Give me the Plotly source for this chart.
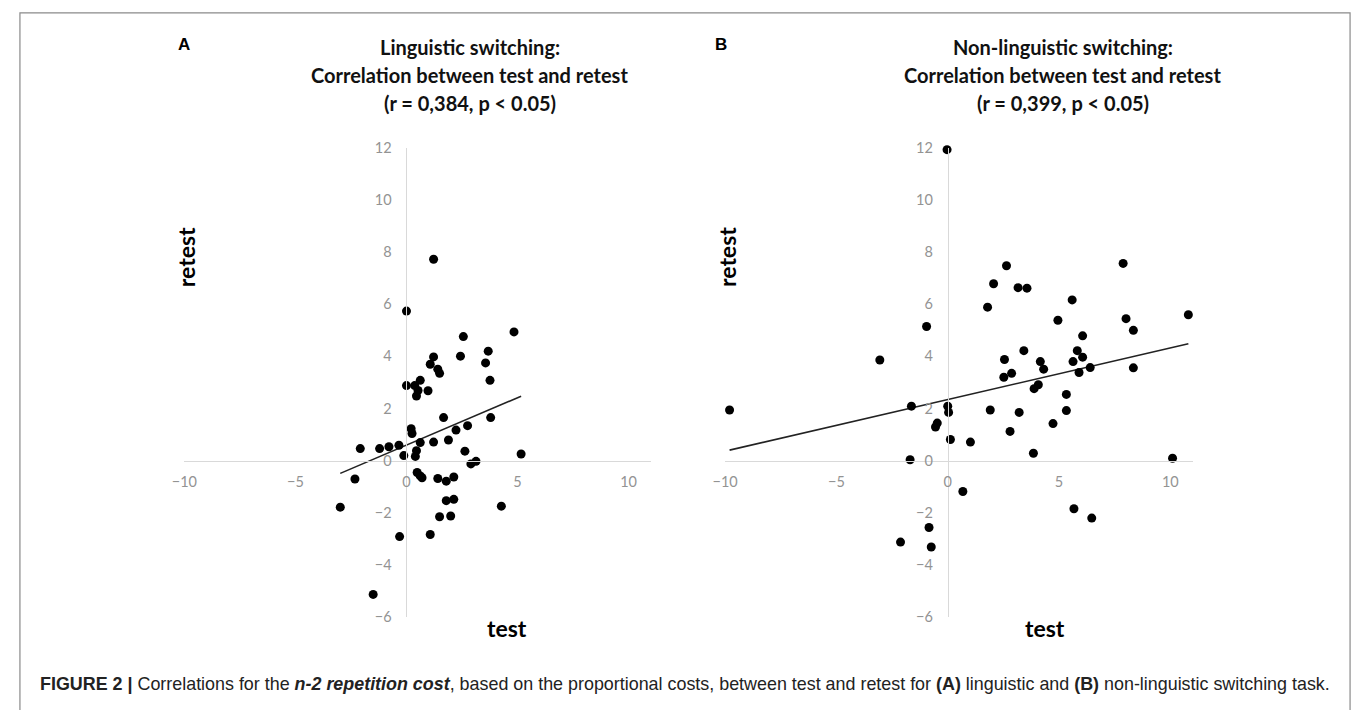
import numpy as np
import plotly.graph_objects as go

# ---------------- data ----------------
ling_test = [1.22, 0.00, 4.84, 2.56, 3.68, 1.22, 2.43, 3.56, 1.07, 1.41, 1.49, 3.76, 0.62, 0.00,
             0.37, 0.52, 0.97, 0.45, 1.67, 3.79, 2.75, 2.23, 0.21, 0.25, 0.62, 1.22, 1.89, -2.08,
             -1.21, -0.79, -0.34, -0.12, 0.45, 0.40, 2.63, 5.16, 2.90, 3.13, 0.48, 0.62, 0.70,
             -2.32, 1.41, 1.79, 2.13, 1.79, 2.13, -2.98, 4.27, 1.49, 1.99, 1.07, -0.31, -1.50]
ling_retest = [7.73, 5.74, 4.94, 4.76, 4.20, 3.98, 4.01, 3.75, 3.70, 3.51, 3.35, 3.08, 3.08, 2.88,
               2.88, 2.69, 2.68, 2.48, 1.65, 1.65, 1.34, 1.17, 1.22, 1.04, 0.69, 0.71, 0.79, 0.46,
               0.46, 0.53, 0.59, 0.19, 0.38, 0.16, 0.36, 0.25, -0.13, -0.03, -0.46, -0.59, -0.66,
               -0.71, -0.69, -0.79, -0.63, -1.54, -1.49, -1.79, -1.75, -2.16, -2.13, -2.84, -2.92, -5.14]

nonling_test = [-0.03, -9.80, -3.05, -0.95, -1.63, -1.69, 0.00, 0.04, -0.47, -0.55, 0.12, 0.68,
                -0.84, -2.12, -0.74, 1.02, 1.79, 2.06, 2.64, 3.16, 3.56, 1.91, 2.55, 2.52, 2.87,
                2.80, 3.21, 3.42, 3.85, 3.88, 4.07, 4.16, 4.31, 4.73, 4.95, 5.33, 5.33, 5.59, 5.63,
                5.82, 5.90, 6.06, 6.06, 6.40, 5.67, 6.47, 7.88, 8.01, 8.34, 8.34, 10.10, 10.81]
nonling_retest = [11.94, 1.94, 3.86, 5.15, 2.09, 0.03, 2.09, 1.85, 1.44, 1.29, 0.81, -1.19,
                  -2.57, -3.13, -3.32, 0.71, 5.89, 6.79, 7.48, 6.64, 6.62, 1.94, 3.88, 3.20, 3.35,
                  1.12, 1.85, 4.22, 0.28, 2.76, 2.91, 3.80, 3.51, 1.42, 5.39, 2.54, 1.92, 6.17, 3.80,
                  4.22, 3.38, 4.79, 3.97, 3.57, -1.85, -2.21, 7.57, 5.45, 5.00, 3.56, 0.09, 5.60]

x_ticks = [-10, -5, 0, 5, 10]
y_ticks = [-6, -4, -2, 0, 2, 4, 6, 8, 10, 12]
x_range = [-10, 11]
y_range = [-6, 12]

panel_letters = ["A", "B"]
panel_titles = [
    ["Linguistic switching:", "Correlation between test and retest", "(r = 0,384, p < 0.05)"],
    ["Non-linguistic switching:", "Correlation between test and retest", "(r = 0,399, p < 0.05)"],
]
x_title = "test"
y_title = "retest"
caption = ("<b>FIGURE 2 |</b> Correlations for the <b><i>n-2 repetition cost</i></b>, based on the "
           "proportional costs, between test and retest for <b>(A)</b> linguistic and <b>(B)</b> "
           "non-linguistic switching task.")

# ---------------- layout geometry (pixels) ----------------
W, H = 1357, 710
x_domains = [[173 / W, 644 / W], [719 / W, 1191 / W]]
y_domain = [1 - 622.7 / H, 1 - 142.5 / H]


def px(x):
    return x / W


def py(y):
    return 1 - y / H


def paper_pos(val, rng, dom):
    return dom[0] + (val - rng[0]) / (rng[1] - rng[0]) * (dom[1] - dom[0])


fig = go.Figure()
datasets = [(ling_test, ling_retest), (nonling_test, nonling_retest)]
sans = "Lato, Carlito, Calibri, sans-serif"
axis_font = dict(family=sans, size=14.5, color="#939393")
title_font = dict(family=sans, size=20, color="#111111")

for i, (xs, ys) in enumerate(datasets):
    xa = "x" if i == 0 else "x2"
    ya = "y" if i == 0 else "y2"
    xs_a = np.array(xs)
    ys_a = np.array(ys)
    slope, intercept = np.polyfit(xs_a, ys_a, 1)
    lx = np.array([xs_a.min(), xs_a.max()])
    fig.add_trace(go.Scatter(x=lx, y=slope * lx + intercept, mode="lines",
                             line=dict(color="#222222", width=1.6),
                             xaxis=xa, yaxis=ya, showlegend=False, hoverinfo="skip",
                             cliponaxis=False))
    fig.add_trace(go.Scatter(x=xs, y=ys, mode="markers",
                             marker=dict(color="black", size=9),
                             xaxis=xa, yaxis=ya, showlegend=False, cliponaxis=False))

    xkey = "xaxis" if i == 0 else "xaxis2"
    ykey = "yaxis" if i == 0 else "yaxis2"
    xdom = x_domains[i]
    fig.update_layout({
        xkey: dict(domain=xdom, range=x_range, anchor="free",
                   position=paper_pos(0, y_range, y_domain),
                   tickvals=x_ticks, showgrid=False, zeroline=False,
                   showline=True, linecolor="#d9d9d9", linewidth=1,
                   ticks="outside", ticklen=8, tickcolor="rgba(0,0,0,0)",
                   tickfont=axis_font, fixedrange=True),
        ykey: dict(domain=y_domain, range=y_range, anchor="free",
                   position=paper_pos(0, x_range, xdom),
                   tickvals=y_ticks, showgrid=False, zeroline=False,
                   showline=True, linecolor="#d9d9d9", linewidth=1,
                   ticks="outside", ticklen=12, tickcolor="rgba(0,0,0,0)",
                   tickfont=axis_font, fixedrange=True),
    })

letter_x = [173, 715]
title_x = [461, 1060]
title_line_y = [39, 68, 96]
retest_x = [175, 721]
test_x = [499, 1042]
for i in range(2):
    fig.add_annotation(x=px(letter_x[i]), y=py(36), xref="paper", yref="paper",
                       xanchor="center", yanchor="middle",
                       text="<b>" + panel_letters[i] + "</b>", showarrow=False,
                       font=dict(family="Liberation Sans, Arial, sans-serif", size=17, color="black"))
    for j, line in enumerate(panel_titles[i]):
        fig.add_annotation(x=px(title_x[i]), y=py(title_line_y[j]), xref="paper", yref="paper",
                           xanchor="center", yanchor="middle",
                           text="<b>" + line + "</b>", showarrow=False, font=title_font)
    fig.add_annotation(x=px(retest_x[i]), y=py(254), xref="paper", yref="paper",
                       xanchor="center", yanchor="middle",
                       text="<b>" + y_title + "</b>", textangle=-90, showarrow=False,
                       font=dict(family=sans, size=23, color="black"))
    fig.add_annotation(x=px(test_x[i]), y=py(634), xref="paper", yref="paper",
                       xanchor="center", yanchor="middle",
                       text="<b>" + x_title + "</b>", showarrow=False,
                       font=dict(family=sans, size=23, color="black"))

fig.add_annotation(x=px(25), y=py(692), xref="paper", yref="paper",
                   xanchor="left", yanchor="middle",
                   text=caption, showarrow=False,
                   font=dict(family="Liberation Sans, Arial, sans-serif", size=17.9, color="#222222"))

fig.add_shape(type="rect", xref="paper", yref="paper",
              x0=px(7), x1=px(1350), y0=-0.02, y1=py(4),
              line=dict(color="#8a8a8a", width=1.2), fillcolor="rgba(0,0,0,0)")

fig.update_layout(width=W, height=H, margin=dict(l=0, r=0, t=0, b=0),
                  paper_bgcolor="white", plot_bgcolor="white", showlegend=False,
                  hovermode=False)

fig.write_html("out.html", config={"displayModeBar": False, "staticPlot": True},
               post_script="document.body.style.margin='0';document.body.style.overflow='hidden';")
